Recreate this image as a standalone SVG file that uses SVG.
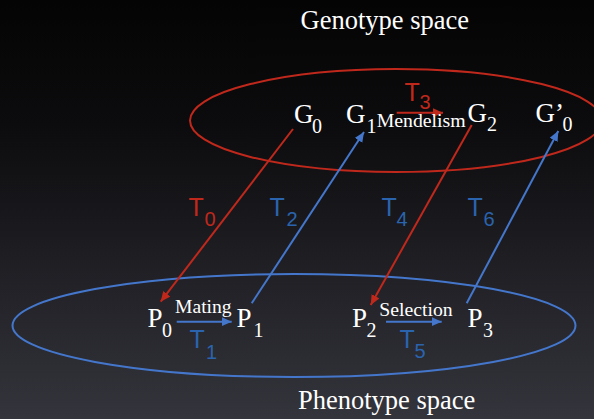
<svg xmlns="http://www.w3.org/2000/svg" width="594" height="419" viewBox="0 0 594 419">
<defs>
<linearGradient id="bg" x1="0" y1="0" x2="0" y2="1">
<stop offset="0" stop-color="#040404"/>
<stop offset="0.3" stop-color="#0c0c0e"/>
<stop offset="0.6" stop-color="#1d1d22"/>
<stop offset="1" stop-color="#34343c"/>
</linearGradient>
<marker id="ar" markerUnits="userSpaceOnUse" markerWidth="11" markerHeight="10" refX="10" refY="4.5" orient="auto">
<path d="M0,0 L10,4.5 L0,9 z" fill="#c0281c"/>
</marker>
<marker id="ab" markerUnits="userSpaceOnUse" markerWidth="11" markerHeight="10" refX="10" refY="4.5" orient="auto">
<path d="M0,0 L10,4.5 L0,9 z" fill="#4477cc"/>
</marker>
</defs>
<style>
.serif{font-family:"Liberation Serif","Times New Roman",serif;fill:#ffffff}
.big{font-size:27px}
.sub{font-size:20px}
.lab{font-size:19.5px}
.title{font-size:26.5px}
.tl{font-family:"Liberation Sans",Arial,sans-serif;font-size:25px}
.ts{font-family:"Liberation Sans",Arial,sans-serif;font-size:20px}
.red{fill:#c0281c}
.blue{fill:#2a64ae}
.rl{stroke:#c0281c;stroke-width:2;fill:none}
.bl{stroke:#4477cc;stroke-width:2;fill:none}
</style>
<rect x="0" y="0" width="594" height="419" fill="url(#bg)"/>

<g id="genotype-space">
<ellipse cx="396" cy="120.5" rx="206" ry="51.5" class="rl"/>
<text x="300.5" y="29.3" class="serif title">Genotype space</text>
</g>
<g id="phenotype-space">
<ellipse cx="294" cy="325.5" rx="281.5" ry="51.5" class="bl"/>
<text x="298" y="409" class="serif title">Phenotype space</text>
</g>

<g id="G0"><text x="294" y="123.3" class="serif big">G</text><text x="312" y="132.7" class="serif sub">0</text></g>
<g id="G1"><text x="346" y="123.3" class="serif big">G</text><text x="366.5" y="132.7" class="serif sub">1</text></g>
<g id="G2"><text x="467.5" y="121.7" class="serif big">G</text><text x="487" y="130.5" class="serif sub">2</text></g>
<g id="G0prime"><text x="535.5" y="121.7" class="serif big">G’</text><text x="562.5" y="130.5" class="serif sub">0</text></g>

<g id="P0"><text x="147.5" y="326.7" class="serif big">P</text><text x="162" y="337.3" class="serif sub">0</text></g>
<g id="P1"><text x="236.5" y="326.7" class="serif big">P</text><text x="253.5" y="337.3" class="serif sub">1</text></g>
<g id="P2"><text x="352" y="326.7" class="serif big">P</text><text x="366.5" y="336.7" class="serif sub">2</text></g>
<g id="P3"><text x="467.5" y="326.7" class="serif big">P</text><text x="483" y="336.7" class="serif sub">3</text></g>

<g id="connectors">
<line x1="396.7" y1="112.7" x2="443" y2="112.7" class="rl" marker-end="url(#ar)"/>
<text x="376.7" y="127.3" class="serif lab" textLength="89" lengthAdjust="spacingAndGlyphs">Mendelism</text>
<text x="404.5" y="100.7" class="tl red">T</text><text x="419.5" y="109.3" class="ts red">3</text>

<line x1="293" y1="129" x2="160.7" y2="301.7" class="rl" marker-end="url(#ar)"/>
<text x="188.5" y="216" class="tl red">T</text><text x="204.5" y="225.7" class="ts red">0</text>

<line x1="251.7" y1="303.3" x2="364" y2="132" class="bl" marker-end="url(#ab)"/>
<text x="269.5" y="216" class="tl blue">T</text><text x="286.5" y="225.7" class="ts blue">2</text>

<line x1="471.7" y1="125" x2="370.7" y2="305" class="rl" marker-end="url(#ar)"/>
<text x="381.5" y="216" class="tl blue">T</text><text x="396.5" y="225.7" class="ts blue">4</text>

<line x1="466.7" y1="303.3" x2="558.3" y2="131" class="bl" marker-end="url(#ab)"/>
<text x="467.5" y="216" class="tl blue">T</text><text x="483.5" y="225.7" class="ts blue">6</text>

<line x1="176.7" y1="321.7" x2="231.7" y2="321.7" class="bl" marker-end="url(#ab)"/>
<text x="175" y="313.3" class="serif lab" textLength="56.7" lengthAdjust="spacingAndGlyphs">Mating</text>
<text x="189.5" y="348.3" class="tl blue">T</text><text x="206" y="359" class="ts blue">1</text>

<line x1="386" y1="321.7" x2="441.7" y2="321.7" class="bl" marker-end="url(#ab)"/>
<text x="379.3" y="316" class="serif lab" textLength="73.4" lengthAdjust="spacingAndGlyphs">Selection</text>
<text x="399.5" y="348.3" class="tl blue">T</text><text x="414.5" y="358.3" class="ts blue">5</text>
</g>
</svg>
